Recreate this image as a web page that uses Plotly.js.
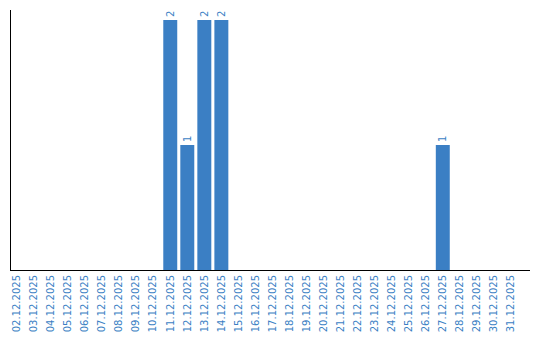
<!DOCTYPE html>
<html><head><meta charset="utf-8">
<script src="https://cdn.plot.ly/plotly-3.0.1.min.js"></script>
<style>html,body{margin:0;padding:0;background:#fff}#c{width:540px;height:340px}</style>
</head><body><div id="c"></div>
<script>
const dates = ["02.12.2025","03.12.2025","04.12.2025","05.12.2025","06.12.2025","07.12.2025","08.12.2025","09.12.2025","10.12.2025","11.12.2025","12.12.2025","13.12.2025","14.12.2025","15.12.2025","16.12.2025","17.12.2025","18.12.2025","19.12.2025","20.12.2025","21.12.2025","22.12.2025","23.12.2025","24.12.2025","25.12.2025","26.12.2025","27.12.2025","28.12.2025","29.12.2025","30.12.2025","31.12.2025"];
const counts = [0,0,0,0,0,0,0,0,0,2,1,2,2,0,0,0,0,0,0,0,0,0,0,0,0,1,0,0,0,0];
const labels = counts.map(v => v > 0 ? String(v) : "");
const idx = dates.map((d,i)=>i);
const blue = "#3b7fc4";
Plotly.newPlot("c", [{
  type: "bar", x: idx, y: counts, width: 0.82,
  marker: {color: blue},
  text: labels, textposition: "outside", textangle: -90, cliponaxis: false,
  textfont: {family: "DejaVu Sans", size: 10, color: blue},
  hoverinfo: "none"
}], {
  width: 540, height: 340,
  margin: {l: 11, r: 10, t: 10, b: 70},
  paper_bgcolor: "#fff", plot_bgcolor: "#fff",
  showlegend: false,
  xaxis: {range: [-0.35, 30.12], tickmode: "array", tickvals: idx, ticktext: dates,
    tickangle: -90, tickfont: {family: "DejaVu Sans", size: 10, color: blue},
    showline: true, linecolor: "#000", linewidth: 1, showgrid: false, zeroline: false, ticks: "", ticklen: 0},
  yaxis: {range: [0, 2.08], showticklabels: false, showline: true, linecolor: "#000", linewidth: 1,
    showgrid: false, zeroline: false, ticks: ""}
}, {displayModeBar: false, staticPlot: true});
</script></body></html>
